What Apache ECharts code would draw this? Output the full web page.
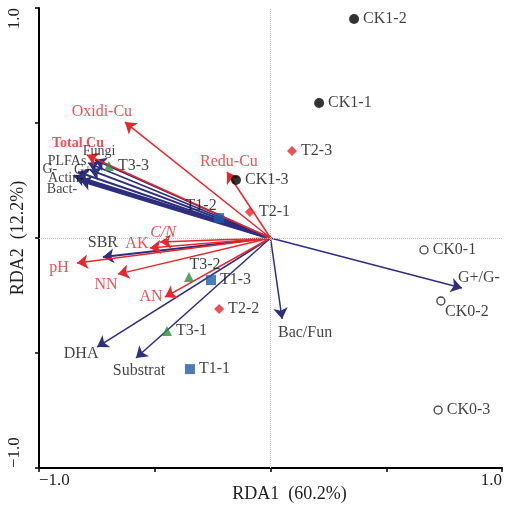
<!DOCTYPE html>
<html>
<head>
<meta charset="utf-8">
<script src="https://cdn.jsdelivr.net/npm/echarts@6/dist/echarts.min.js"></script>
<style>
  html, body { margin: 0; padding: 0; background: #fff; }
  #chart { width: 506px; height: 505px; }
</style>
</head>
<body>
<div id="chart"></div>
<script>
// sample scores (RDA1, RDA2)
var ck0Names = ['CK0-1', 'CK0-2', 'CK0-3']
var ck0X = [0.663, 0.736, 0.724]
var ck0Y = [-0.052, -0.274, -0.748]
var ck1Names = ['CK1-1', 'CK1-2', 'CK1-3']
var ck1X = [0.210, 0.361, -0.149]
var ck1Y = [0.587, 0.952, 0.252]
var t1Names = ['T1-1', 'T1-2', 'T1-3']
var t1X = [-0.348, -0.222, -0.257]
var t1Y = [-0.570, 0.087, -0.183]
var t2Names = ['T2-1', 'T2-2', 'T2-3']
var t2X = [-0.089, -0.222, 0.093]
var t2Y = [0.113, -0.309, 0.378]
var t3Names = ['T3-1', 'T3-2', 'T3-3']
var t3X = [-0.447, -0.352, -0.698]
var t3Y = [-0.404, -0.170, 0.313]

// environmental factors (red arrows)
var envNames = ['Oxidi-Cu', 'Total Cu', 'Redu-Cu', 'C/N', 'AK', 'pH', 'NN', 'AN']
var envX = [-0.629, -0.793, -0.188, -0.477, -0.521, -0.836, -0.659, -0.456]
var envY = [0.504, 0.361, 0.287, -0.017, -0.043, -0.109, -0.157, -0.257]

// microbial indices (navy arrows)
var micNames = ['Fungi', 'PLFAs', 'G+', 'G-', 'Actin-', 'Bact-', 'SBR', 'DHA', 'Substrat', 'G+/G-', 'Bac/Fun']
var micX = [-0.758, -0.788, -0.780, -0.832, -0.849, -0.823, -0.724, -0.749, -0.581, 0.827, 0.050]
var micY = [0.339, 0.326, 0.296, 0.287, 0.270, 0.252, -0.083, -0.474, -0.522, -0.217, -0.352]

var RED = '#e8262b'
var NAVY = '#2d2e7e'
var FONT = '"Liberation Serif", "Times New Roman", serif'

// label placement (pixel offsets from the arrow tip / point)
var arrowLabelOffset = {
  'Oxidi-Cu': [-23, -10], 'Total Cu': [-9, -12], 'Redu-Cu': [2, -10], 'C/N': [3, -9],
  'AK': [-13, -4], 'pH': [-18, 5], 'NN': [-12, 11], 'AN': [-14, 0],
  'Fungi': [4, -9], 'PLFAs': [-21, -2], 'G+': [-7, 0], 'G-': [-28, -3],
  'Actin-': [-8, 2], 'Bact-': [-18, 9], 'SBR': [0, -14], 'DHA': [-16, 7],
  'Substrat': [3, 13], 'G+/G-': [17, -10], 'Bac/Fun': [23, 14]
}
var arrowWidth = { 'G+': 2, 'G-': 2, 'Actin-': 3, 'Bact-': 3.5, 'SBR': 2 }
var smallLabels = ['Total Cu', 'Fungi', 'PLFAs', 'G+', 'G-', 'Actin-', 'Bact-']
var siteLabelOffset = { 'T1-2': [-18, -12], 'T3-2': [16, -12], 'CK0-2': [26, 11] }

function arrowData(names, xs, ys) {
  return names.map(function (n, i) {
    return {
      name: n,
      coords: [[0, 0], [xs[i], ys[i]]],
      lineStyle: { width: arrowWidth[n] || 1.5 }
    }
  })
}

function arrowLabels(names, xs, ys, color) {
  return names.map(function (n, i) {
    var small = smallLabels.indexOf(n) >= 0
    return {
      name: n,
      value: [xs[i], ys[i]],
      label: {
        show: true,
        position: 'inside',
        offset: arrowLabelOffset[n],
        formatter: n,
        color: color,
        fontFamily: FONT,
        fontSize: small ? 14 : 16,
        fontWeight: n === 'Total Cu' ? 'bold' : 'normal',
        fontStyle: n === 'C/N' ? 'italic' : 'normal'
      }
    }
  })
}

function siteData(names, xs, ys) {
  return names.map(function (n, i) {
    var item = { name: n, value: [xs[i], ys[i]] }
    if (siteLabelOffset[n]) {
      item.label = { position: 'inside', offset: siteLabelOffset[n] }
    }
    return item
  })
}

function siteSeries(names, xs, ys, symbol, size, style) {
  return {
    type: 'scatter',
    symbol: symbol,
    symbolSize: size,
    itemStyle: style,
    data: siteData(names, xs, ys),
    z: 5,
    label: {
      show: true,
      position: 'right',
      distance: 4,
      formatter: '{b}',
      color: '#111',
      fontFamily: FONT,
      fontSize: 16
    }
  }
}

var chart = echarts.init(document.getElementById('chart'))
var option = {
  animation: false,
  backgroundColor: '#fff',
  textStyle: { fontFamily: FONT },
  grid: { left: 39, right: 4, top: 8, bottom: 37, containLabel: false, outerBoundsMode: 'none' },
  xAxis: {
    type: 'value', min: -1, max: 1, interval: 0.5,
    name: 'RDA1  (60.2%)', nameLocation: 'middle', nameGap: 17, nameMoveOverlap: false,
    nameTextStyle: { fontFamily: FONT, fontSize: 18, color: '#222', verticalAlign: 'top', padding: [0, 0, 0, 38] },
    axisLine: { onZero: false, lineStyle: { color: '#000', width: 2 } },
    axisTick: { length: 4, lineStyle: { color: '#000', width: 1.5 } },
    splitLine: { show: false },
    axisLabel: {
      fontFamily: FONT, fontSize: 17, color: '#222', margin: 4,
      alignMinLabel: 'left', alignMaxLabel: 'right',
      formatter: function (v) {
        if (v === -1) return '\u22121.0'
        if (v === 1) return '1.0'
        return ''
      }
    }
  },
  yAxis: {
    type: 'value', min: -1, max: 1, interval: 0.5,
    name: 'RDA2  (12.2%)', nameLocation: 'middle', nameGap: 12, nameMoveOverlap: false,
    nameTextStyle: { fontFamily: FONT, fontSize: 18, color: '#222' },
    axisLine: { onZero: false, lineStyle: { color: '#000', width: 2 } },
    axisTick: { length: 4, lineStyle: { color: '#000', width: 1.5 } },
    splitLine: { show: false },
    axisLabel: {
      fontFamily: FONT, fontSize: 17, color: '#222', margin: 16, rotate: 90,
      alignMinLabel: 'left', alignMaxLabel: 'right',
      formatter: function (v) {
        if (v === -1) return '\u22121.0'
        if (v === 1) return '1.0'
        return ''
      }
    }
  },
  series: [
    {
      type: 'lines',
      coordinateSystem: 'cartesian2d',
      symbol: ['none', 'arrow'],
      symbolSize: [0, 11],
      lineStyle: { color: NAVY, opacity: 1, curveness: 0 },
      data: arrowData(micNames, micX, micY),
      z: 2,
      markLine: {
        silent: true,
        symbol: 'none',
        label: { show: false },
        lineStyle: { color: '#c4c4c4', type: 'dotted', width: 1 },
        data: [{ xAxis: 0 }, { yAxis: 0 }]
      }
    },
    {
      type: 'lines',
      coordinateSystem: 'cartesian2d',
      symbol: ['none', 'arrow'],
      symbolSize: [0, 11],
      lineStyle: { color: RED, opacity: 1, curveness: 0 },
      data: arrowData(envNames, envX, envY),
      z: 3
    },
    {
      type: 'scatter', symbol: 'circle', symbolSize: 1,
      itemStyle: { color: 'rgba(0,0,0,0)' },
      data: arrowLabels(micNames, micX, micY, '#111'),
      z: 6
    },
    {
      type: 'scatter', symbol: 'circle', symbolSize: 1,
      itemStyle: { color: 'rgba(0,0,0,0)' },
      data: arrowLabels(envNames, envX, envY, RED),
      z: 6
    },
    siteSeries(ck0Names, ck0X, ck0Y, 'circle', 8, { color: '#fff', borderColor: '#111', borderWidth: 1.3 }),
    siteSeries(ck1Names, ck1X, ck1Y, 'circle', 10, { color: '#000' }),
    siteSeries(t1Names, t1X, t1Y, 'rect', 10, { color: '#1f5aa6' }),
    siteSeries(t2Names, t2X, t2Y, 'diamond', 10, { color: RED }),
    siteSeries(t3Names, t3X, t3Y, 'triangle', 10, { color: '#2e8b3e' })
  ]
}
chart.setOption(option)
</script>
</body>
</html>
